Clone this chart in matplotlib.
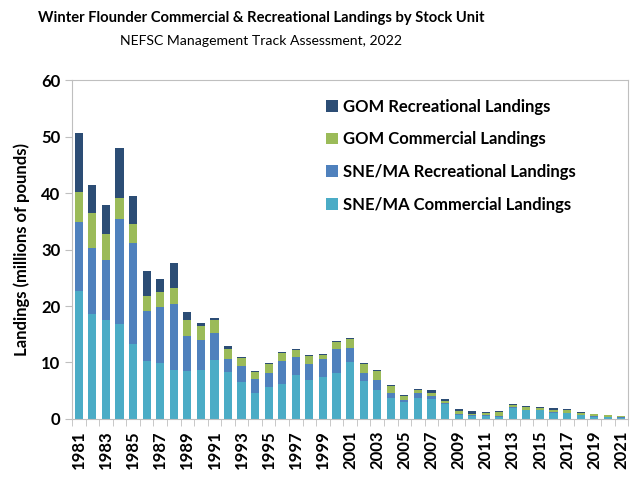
import numpy as np
import matplotlib
matplotlib.use('Agg')
import matplotlib.pyplot as plt

# ------------------------------------------------------------
# Data (millions of pounds)
# ------------------------------------------------------------
years = list(range(1981, 2022))

sne_comm = [22.7, 18.6, 17.5, 16.8, 13.3, 10.3, 9.9, 8.7, 8.5, 8.7,
            10.4, 8.3, 6.5, 4.6, 5.7, 6.2, 7.8, 6.9, 7.4, 8.1,
            10.1, 6.7, 5.1, 3.7, 3.0, 3.7, 3.5, 2.6, 0.65, 0.5,
            0.5, 0.4, 1.95, 1.5, 1.5, 1.1, 1.05, 0.65, 0.35, 0.3,
            0.25]
sne_rec = [12.2, 11.7, 10.6, 18.6, 17.9, 8.8, 9.9, 11.7, 6.2, 5.3,
           4.8, 2.3, 2.9, 2.5, 2.4, 4.1, 3.2, 2.8, 3.2, 4.3,
           2.5, 1.4, 1.8, 0.9, 0.4, 0.9, 0.6, 0.2, 0.25, 0.15,
           0.2, 0.2, 0.1, 0.15, 0.1, 0.15, 0.05, 0.05, 0.1, 0.05,
           0.05]
gom_comm = [5.3, 6.2, 4.6, 3.7, 3.3, 2.7, 2.7, 2.8, 2.8, 2.5,
            2.3, 1.8, 1.4, 1.2, 1.6, 1.4, 1.2, 1.5, 0.7, 1.2,
            1.6, 1.6, 1.6, 1.2, 0.7, 0.5, 0.5, 0.4, 0.5, 0.25,
            0.4, 0.7, 0.45, 0.5, 0.4, 0.4, 0.55, 0.4, 0.35, 0.3,
            0.3]
gom_rec = [10.5, 4.9, 5.2, 8.9, 5.0, 4.4, 2.3, 4.4, 1.4, 0.5,
           0.4, 0.5, 0.2, 0.2, 0.2, 0.2, 0.2, 0.1, 0.2, 0.2,
           0.1, 0.2, 0.2, 0.2, 0.1, 0.2, 0.5, 0.3, 0.35, 0.5,
           0.1, 0.1, 0.15, 0.15, 0.1, 0.3, 0.15, 0.15, 0.15, 0.1,
           0.0]

series = [
    ('SNE/MA Commercial Landings', sne_comm, '#4BACC6'),
    ('SNE/MA Recreational Landings', sne_rec, '#4F81BD'),
    ('GOM Commercial Landings', gom_comm, '#9BBB59'),
    ('GOM Recreational Landings', gom_rec, '#2C4D75'),
]

plt.rcParams['font.family'] = ['Lato', 'DejaVu Sans']
plt.rcParams['font.weight'] = 'bold'

fig = plt.figure(figsize=(6.4, 4.86), dpi=100)
ax = fig.add_axes([0.1125, 0.138, 0.869, 0.697])

x = np.arange(len(years))
bottom = np.zeros(len(years))
handles = []
for name, vals, color in series:
    b = ax.bar(x, vals, width=0.6, bottom=bottom, color=color, label=name)
    handles.append(b)
    bottom += np.array(vals)

ax.set_xlim(-0.5, len(years) - 0.5)
ax.set_ylim(0, 60)
ax.set_yticks(range(0, 61, 10))

# labels every other year, tick marks on category boundaries
ax.set_xticks(x[::2])
ax.set_xticklabels([str(y) for y in years[::2]], rotation=90,
                   fontsize=12, fontweight='bold')
ax.set_xticks(np.arange(-0.5, len(years), 1), minor=True)
ax.tick_params(axis='x', which='major', length=0, pad=8)
ax.tick_params(axis='x', which='minor', length=5, color='#BFBFBF')
ax.tick_params(axis='y', length=5, color='#BFBFBF', labelsize=12)
for lab in ax.get_yticklabels():
    lab.set_fontweight('bold')

for s in ax.spines.values():
    s.set_color('#BFBFBF')

ax.set_ylabel('Landings (millions of pounds)', fontsize=12,
              fontweight='bold', labelpad=8)

leg = ax.legend(handles[::-1], [h.get_label() for h in handles[::-1]],
                loc='upper left', bbox_to_anchor=(0.43, 0.99),
                frameon=False, fontsize=12, handlelength=0.7,
                handleheight=0.7, handletextpad=0.3, labelspacing=1.0)
for t in leg.get_texts():
    t.set_fontweight('bold')

fig.text(0.408, 0.962, 'Winter Flounder Commercial & Recreational Landings by Stock Unit',
         ha='center', va='center', fontsize=10.6, fontweight='bold')
fig.text(0.408, 0.915, 'NEFSC Management Track Assessment, 2022',
         ha='center', va='center', fontsize=10.1, fontweight='normal')

fig.savefig('out.png', dpi=100)
